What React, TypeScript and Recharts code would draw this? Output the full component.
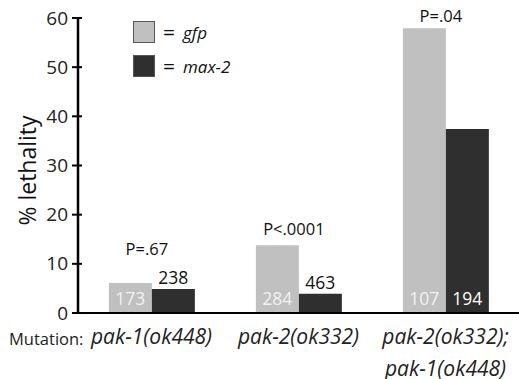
import React from "react";
import { BarChart, Bar, XAxis, YAxis, LabelList } from "recharts";

const categories = ["pak-1(ok448)", "pak-2(ok332)", "pak-2(ok332);|pak-1(ok448)"];
const gfpValues = [6.1, 13.8, 57.9];
const max2Values = [4.9, 3.9, 37.4];
const gfpCounts = [173, 284, 107];
const max2Counts = [238, 463, 194];
const pValues = ["P=.67", "P<.0001", "P=.04"];
const yTicks = [0, 10, 20, 30, 40, 50, 60];

const data = categories.map((c, i) => ({
  name: c,
  gfp: gfpValues[i],
  max2: max2Values[i],
  gfpN: gfpCounts[i],
  max2N: max2Counts[i],
  p: pValues[i],
}));

const FONT = "'Open Sans', sans-serif";
const GFP = "#c0c0c0";
const MAX2 = "#2f2f2f";

function YTick(props: any) {
  const { x, y, payload } = props;
  return (
    <g>
      <line x1={x - 6} x2={x + 4} y1={y} y2={y} stroke="#000" strokeWidth={2} />
      <text x={x - 10} y={y + 6.5} textAnchor="end" fontSize={19} fill="#222" fontFamily={FONT}>
        {payload.value}
      </text>
    </g>
  );
}

function XTick(props: any) {
  const { x, y, payload, index } = props;
  const lines = String(payload.value).split("|");
  return (
    <g>
      {index === 0 && (
        <text x={9} y={y + 32} fontSize={16.5} fill="#222" fontFamily={FONT}>
          Mutation:
        </text>
      )}
      {lines.map((l, i) => (
        <text
          key={i}
          x={x}
          y={y + 31 + i * 32}
          textAnchor="middle"
          fontSize={21}
          fontStyle="italic"
          fill="#222"
          fontFamily={FONT}
        >
          {l}
        </text>
      ))}
    </g>
  );
}

// count labels: inside at the bottom if the bar is tall enough, otherwise on top
function countLabel(inColor: string) {
  return (props: any) => {
    const { x, y, width, height, value } = props;
    const inside = height > 25;
    return (
      <text
        x={x + width / 2}
        y={inside ? y + height - 8 : y - 5}
        textAnchor="middle"
        fontSize={17.5}
        fill={inside ? inColor : "#111"}
        fontFamily={FONT}
      >
        {value}
      </text>
    );
  };
}

const pLift = [28, 10, 6];

function PLabel(props: any) {
  const { x, y, width, value, index } = props;
  return (
    <text
      x={x + width - 5}
      y={y - pLift[index]}
      textAnchor="middle"
      fontSize={16.5}
      fill="#111"
      fontFamily={FONT}
    >
      {value}
    </text>
  );
}

function LegendBox() {
  const items = [
    { label: "gfp", color: GFP, top: 18 },
    { label: "max-2", color: MAX2, top: 52 },
  ];
  return (
    <>
      {items.map((it) => (
        <div
          key={it.label}
          style={{
            position: "absolute",
            left: 133,
            top: it.top,
            display: "flex",
            alignItems: "center",
            fontFamily: FONT,
            fontSize: 17,
            color: "#111",
          }}
        >
          <div
            style={{
              width: 20,
              height: 20,
              background: it.color,
              border: "1.5px solid #555",
              marginRight: 8,
            }}
          />
          <span style={{ fontSize: 21, marginRight: 8 }}>=</span>
          <span style={{ fontStyle: "italic" }}>{it.label}</span>
        </div>
      ))}
    </>
  );
}

export default function App() {
  return (
    <div style={{ position: "absolute", left: 0, top: 0, width: 519, height: 379, background: "#fff" }}>
      <BarChart
        width={519}
        height={379}
        data={data}
        margin={{ top: 18, right: 0, bottom: 0, left: 0 }}
        barCategoryGap="21%"
        barGap={0}
      >
        <XAxis
          dataKey="name"
          height={66}
          axisLine={{ stroke: "#000", strokeWidth: 2 }}
          tickLine={false}
          tickSize={0}
          tickMargin={0}
          interval={0}
          tick={<XTick />}
        />
        <YAxis
          width={78}
          domain={[0, 60]}
          ticks={yTicks}
          axisLine={{ stroke: "#000", strokeWidth: 2.5 }}
          tickLine={false}
          tickSize={0}
          tickMargin={0}
          tick={<YTick />}
          label={{
            value: "% lethality",
            angle: -90,
            position: "insideLeft",
            offset: 28,
            dy: 5,
            style: { fontSize: 23, fill: "#111", fontFamily: FONT, textAnchor: "middle" },
          }}
        />
        <Bar dataKey="gfp" fill={GFP} isAnimationActive={false}>
          <LabelList dataKey="gfpN" content={countLabel("#f2f2f2")} />
          <LabelList dataKey="p" content={<PLabel />} />
        </Bar>
        <Bar dataKey="max2" fill={MAX2} isAnimationActive={false}>
          <LabelList dataKey="max2N" content={countLabel("#ffffff")} />
        </Bar>
      </BarChart>
      <LegendBox />
    </div>
  );
}
